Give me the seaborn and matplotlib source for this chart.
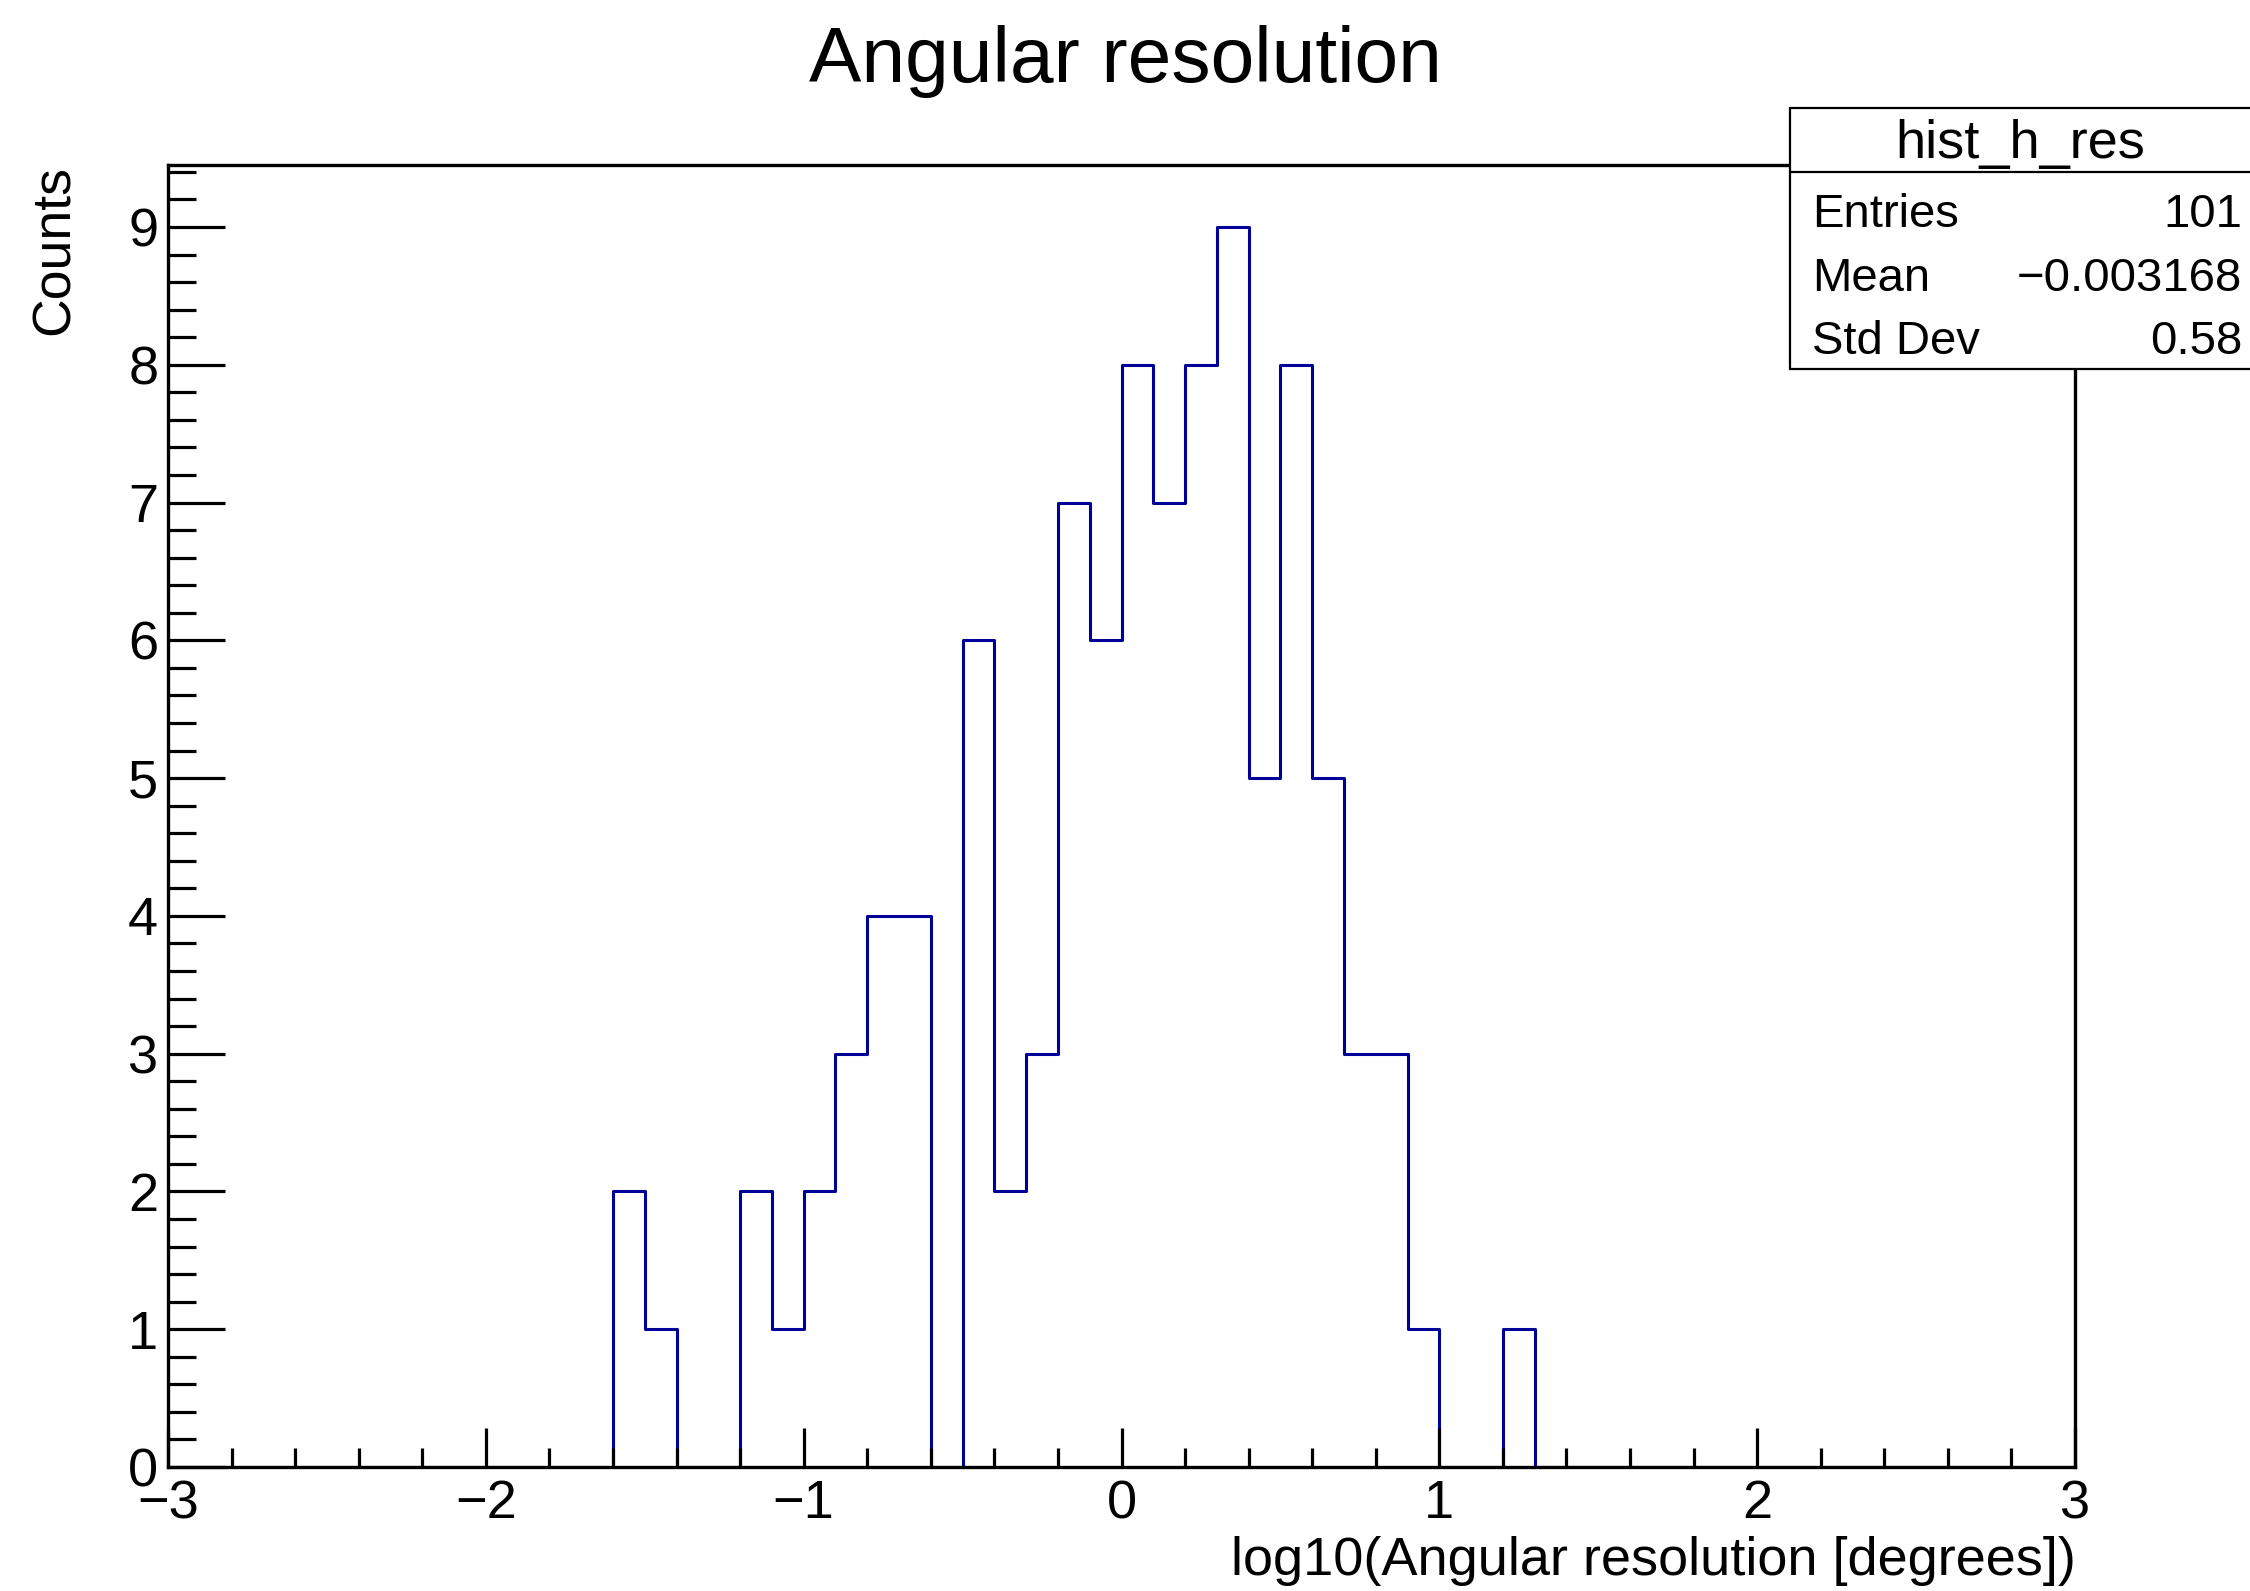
import numpy as np
import pandas as pd
import matplotlib
matplotlib.use("Agg")
import matplotlib.pyplot as plt
from matplotlib.patches import Rectangle
from matplotlib.ticker import MultipleLocator
import seaborn as sns

# Histogram of log10(angular resolution), 60 bins of width 0.1 on [-3, 3]
x_range = (-3.0, 3.0)
bin_width = 0.1
counts = [
    0, 0, 0, 0, 0, 0, 0, 0, 0, 0,   # -3.0 .. -2.1
    0, 0, 0, 0, 2, 1, 0, 0, 2, 1,   # -2.0 .. -1.1
    2, 3, 4, 4, 0, 6, 2, 3, 7, 6,   # -1.0 .. -0.1
    8, 7, 8, 9, 5, 8, 5, 3, 3, 1,   #  0.0 ..  0.9
    0, 0, 1, 0, 0, 0, 0, 0, 0, 0,   #  1.0 ..  1.9
    0, 0, 0, 0, 0, 0, 0, 0, 0, 0,   #  2.0 ..  2.9
]
stat_names = ["Entries", "Mean", "Std Dev"]
stat_values = ["101", "\u22120.003168", "0.58"]
hist_name = "hist_h_res"

bin_edges = np.linspace(x_range[0], x_range[1], len(counts) + 1)
bin_centers = 0.5 * (bin_edges[:-1] + bin_edges[1:])
df = pd.DataFrame({"x": bin_centers, "w": counts})

sns.set_style("ticks")
plt.rcParams["font.family"] = ["Liberation Sans", "DejaVu Sans"]
plt.rcParams.update({
    "text.color": "black",
    "axes.labelcolor": "black",
    "xtick.color": "black",
    "ytick.color": "black",
    "axes.edgecolor": "black",
})

W, H = 2250, 1591
fig = plt.figure(figsize=(W / 100, H / 100), dpi=100)
ax = fig.add_axes([168 / W, 1 - 1467 / H, 1907 / W, 1302 / H])

sns.histplot(data=df, x="x", weights="w", binwidth=bin_width,
             binrange=x_range, element="step", fill=False,
             color="#000099", linewidth=2.2, ax=ax)

ax.set_xlim(*x_range)
ax.set_ylim(0, 9.45)
ax.set_xlabel("")
ax.set_ylabel("")
ax.set_axisbelow(False)

for s in ax.spines.values():
    s.set_visible(True)
    s.set_linewidth(2.4)
    s.set_color("black")
    s.set_zorder(3)

ax.xaxis.set_major_locator(MultipleLocator(1))
ax.xaxis.set_minor_locator(MultipleLocator(0.2))
ax.yaxis.set_major_locator(MultipleLocator(1))
ax.yaxis.set_minor_locator(MultipleLocator(0.2))

ax.tick_params(axis="x", which="major", direction="in", length=39 / 1.389,
               width=2.3, labelsize=39, pad=9, top=False, colors="black")
ax.tick_params(axis="x", which="minor", direction="in", length=19.5 / 1.389,
               width=2.3, top=False, colors="black")
ax.tick_params(axis="y", which="major", direction="in", length=57 / 1.389,
               width=2.3, labelsize=39, pad=7, right=False, colors="black")
ax.tick_params(axis="y", which="minor", direction="in", length=28.5 / 1.389,
               width=2.3, right=False, colors="black")

# Titles
fig.text(0.5, 1 - 82 / H, "Angular resolution", ha="center", va="baseline",
         fontsize=56.5, color="black")
fig.text(2076 / W, 1 - 1575 / H, "log10(Angular resolution [degrees])",
         ha="right", va="baseline", fontsize=39, color="black")
fig.text(55 / W, 1 - 165 / H, "Counts", rotation=90, ha="center", va="top",
         fontsize=38.5, color="black")

# Statistics box
box_l, box_t, box_b, box_div = 1790, 108, 369, 172
fig.patches.append(Rectangle((box_l / W, 1 - box_b / H), (W + 20 - box_l) / W,
                             (box_b - box_t) / H, transform=fig.transFigure,
                             facecolor="white", edgecolor="black",
                             linewidth=1.6, zorder=5))
fig.add_artist(plt.Line2D([box_l / W, 1.01], [1 - box_div / H, 1 - box_div / H],
                          transform=fig.transFigure, color="black",
                          linewidth=1.6, zorder=6))
fig.text((box_l + W) / 2 / W, 1 - 158 / H, hist_name, ha="center",
         va="baseline", fontsize=39, zorder=7, color="black")
row_base = [227, 291, 354]
for name, val, yb in zip(stat_names, stat_values, row_base):
    fig.text(1812 / W, 1 - yb / H, name, ha="left", va="baseline",
             fontsize=34, zorder=7, color="black")
    fig.text(2242 / W, 1 - yb / H, val, ha="right", va="baseline",
             fontsize=34, zorder=7, color="black")

fig.savefig("out.png", dpi=100, facecolor="white")
